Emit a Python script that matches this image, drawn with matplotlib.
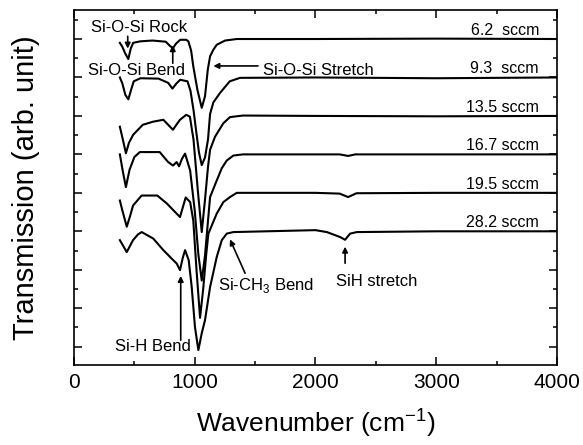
import matplotlib
matplotlib.use('Agg')
import matplotlib.pyplot as plt
from matplotlib.ticker import MultipleLocator
import numpy as np

plt.rcParams['font.family'] = ['Liberation Sans', 'DejaVu Sans']
plt.rcParams['mathtext.fontset'] = 'custom'
plt.rcParams['mathtext.rm'] = 'Liberation Sans'

# flow rates and vertical offsets of each spectrum
flows = ['6.2  sccm', '9.3  sccm', '13.5 sccm', '16.7 sccm', '19.5 sccm', '28.2 sccm']
offsets = [8, 7, 6, 5, 4, 3]

# spectra (wavenumber, transmission relative to baseline)
wn1 = [380, 400, 425, 450, 470, 490, 550, 650, 760, 795, 820, 845, 880, 930, 947, 970, 988,
       1022, 1058, 1085, 1108, 1127, 1154, 1182, 1251, 1348, 1500, 2000, 3000, 4000]
t1 = [-0.10, -0.20, -0.38, -0.52, -0.25, -0.10, -0.06, -0.04, -0.07, -0.18, -0.24, -0.12, -0.02,
      -0.02, -0.06, -0.30, -0.71, -1.32, -1.79, -1.49, -0.80, -0.45, -0.28, -0.15, -0.04, 0.0,
      0.0, 0.0, 0.01, 0.0]

wn2 = [380, 400, 425, 450, 475, 495, 550, 700, 780, 815, 850, 880, 940, 965, 990, 1010, 1035,
       1058, 1085, 1110, 1127, 1154, 1210, 1290, 1375, 2000, 3000, 4000]
t2 = [0.0, -0.15, -0.45, -0.57, -0.30, -0.10, -0.02, -0.03, -0.14, -0.29, -0.15, -0.06, -0.10,
      -0.35, -0.85, -1.35, -1.95, -2.28, -2.08, -1.61, -0.95, -0.65, -0.40, -0.10, -0.01, 0.0,
      -0.02, 0.0]

wn3 = [380, 405, 430, 455, 490, 530, 570, 655, 740, 795, 820, 850, 878, 930, 960, 990, 1025,
       1058, 1085, 1110, 1127, 1168, 1237, 1292, 1400, 2000, 3000, 4000]
t3 = [-0.28, -0.62, -0.97, -0.70, -0.49, -0.36, -0.23, -0.15, -0.10, -0.28, -0.36, -0.22, -0.10,
      0.03, -0.02, -0.62, -1.92, -3.02, -2.18, -1.32, -0.88, -0.54, -0.19, -0.03, 0.01, 0.0,
      -0.01, 0.0]

wn4 = [380, 405, 430, 460, 500, 545, 710, 780, 820, 850, 870, 895, 920, 962, 1000, 1030, 1058,
       1085, 1110, 1127, 1182, 1224, 1265, 1320, 1400, 2000, 2200, 2270, 2330, 3000, 4000]
t4 = [0.0, -0.45, -0.85, -0.40, -0.07, 0.06, 0.06, -0.20, -0.29, -0.20, -0.31, -0.11, 0.02,
      -0.42, -1.46, -2.60, -3.28, -2.63, -1.72, -1.11, -0.68, -0.36, -0.16, -0.03, 0.0, 0.0,
      0.0, -0.04, 0.0, 0.0, 0.0]

wn5 = [380, 400, 437, 465, 489, 560, 690, 770, 810, 878, 925, 962, 988, 1015, 1044, 1070, 1095,
       1113, 1182, 1237, 1292, 1348, 2000, 2200, 2270, 2340, 3000, 4000]
t5 = [-0.20, -0.45, -0.88, -0.60, -0.33, -0.07, -0.07, -0.28, -0.41, -0.63, -0.12, -0.24, -0.72,
      -2.02, -3.25, -2.50, -1.60, -1.06, -0.54, -0.24, -0.11, 0.0, 0.0, -0.02, -0.11, -0.01,
      0.0, 0.0]

wn6 = [380, 437, 489, 530, 561, 657, 740, 809, 851, 878, 900, 920, 950, 975, 1002, 1030, 1058,
       1085, 1127, 1182, 1224, 1265, 1320, 2000, 2094, 2162, 2204, 2245, 2287, 2342, 3000, 4000]
t6 = [-0.23, -0.54, -0.23, -0.08, -0.02, -0.19, -0.49, -0.71, -0.84, -1.01, -0.70, -0.49, -0.75,
      -1.45, -2.49, -3.09, -2.65, -2.31, -1.45, -0.67, -0.23, -0.06, -0.02, 0.03, -0.02, -0.10,
      -0.15, -0.22, -0.06, -0.02, 0.0, 0.0]

wns = [wn1, wn2, wn3, wn4, wn5, wn6]
ts = [t1, t2, t3, t4, t5, t6]

fig = plt.figure(figsize=(5.83, 4.45), dpi=100)
ax = fig.add_axes([0.1269, 0.1798, 0.8285, 0.7977])

for wn, t, off, lab in zip(wns, ts, offsets, flows):
    ax.plot(wn, np.array(t) + off, color='k', lw=1.5, solid_joinstyle='round')
    ax.text(3850, off + 0.23, lab, ha='right', va='center', fontsize=11.5)

ax.set_xlim(0, 4000)
ax.set_ylim(-0.476, 8.754)
ax.xaxis.set_major_locator(MultipleLocator(1000))
ax.xaxis.set_minor_locator(MultipleLocator(500))
ax.yaxis.set_major_locator(MultipleLocator(1))
ax.yaxis.set_minor_locator(MultipleLocator(0.5))
ax.tick_params(which='both', direction='in', top=True, right=True, width=1.1)
ax.tick_params(which='major', length=5.5, labelsize=15, pad=6)
ax.tick_params(which='minor', length=3)
ax.tick_params(axis='y', labelleft=False)
for s in ax.spines.values():
    s.set_linewidth(1.2)

ax.set_xlabel('Wavenumber (cm$^{-1}$)', fontsize=19, labelpad=10)
ax.set_ylabel('Transmission (arb. unit)', fontsize=21)
ax.yaxis.set_label_coords(-0.07, 0.5)

arr = dict(arrowstyle='-|>', color='k', lw=1.2, mutation_scale=8, shrinkA=0, shrinkB=0)
ax.text(543, 8.29, 'Si-O-Si Rock', ha='center', va='center', fontsize=12)
ax.annotate('', xy=(445, 7.75), xytext=(445, 8.07), arrowprops=arr)
ax.text(514, 7.19, 'Si-O-Si Bend', ha='center', va='center', fontsize=12)
ax.annotate('', xy=(818, 7.84), xytext=(818, 7.37), arrowprops=arr)
ax.text(1568, 7.19, 'Si-O-Si Stretch', ha='left', va='center', fontsize=12)
ax.annotate('', xy=(1154, 7.30), xytext=(1524, 7.30), arrowprops=arr)
ax.text(654, 0.0, 'Si-H Bend', ha='center', va='center', fontsize=12)
ax.annotate('', xy=(884, 1.84), xytext=(884, 0.17), arrowprops=arr)
ax.text(1196, 1.60, 'Si-CH$_3$ Bend', ha='left', va='center', fontsize=12)
ax.annotate('', xy=(1292, 2.79), xytext=(1417, 1.91), arrowprops=arr)
ax.text(2508, 1.69, 'SiH stretch', ha='center', va='center', fontsize=12)
ax.annotate('', xy=(2245, 2.60), xytext=(2245, 2.17), arrowprops=arr)

fig.savefig('out.png', dpi=100)
